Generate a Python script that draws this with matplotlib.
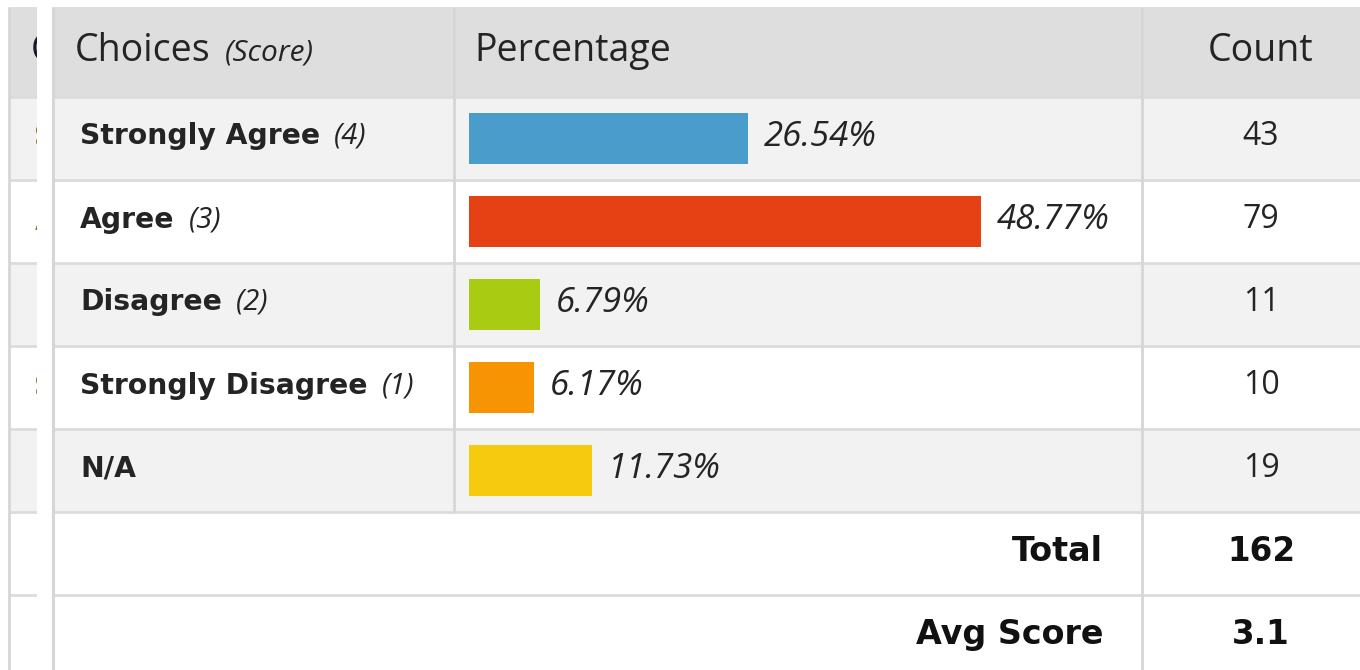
import matplotlib
matplotlib.use("Agg")
import matplotlib.pyplot as plt
from matplotlib.patches import Rectangle

# ---- data ----
choices = ["Strongly Agree", "Agree", "Disagree", "Strongly Disagree", "N/A"]
scores = ["(4)", "(3)", "(2)", "(1)", ""]
percentages = [26.54, 48.77, 6.79, 6.17, 11.73]
counts = [43, 79, 11, 10, 19]
total = 162
avg_score = "3.1"
header_labels = ["Choices", "(Score)", "Percentage", "Count"]
bar_colors = ["#4a9ccb", "#e64115", "#a9cb12", "#f79403", "#f6ca0e"]

W, H = 1360, 670
fig = plt.figure(figsize=(W / 100, H / 100), dpi=100)
fig.patch.set_facecolor("white")
ax0 = fig.add_axes([0, 0, 1, 1])
ax0.set_xlim(0, W)
ax0.set_ylim(H, 0)
ax0.axis("off")

TXT = "#242424"
LINE = "#dcdcdc"
VLINE = "#d6d6d6"
HDR = "#dedede"
ALT = "#f2f2f2"
SANS = "Open Sans"
BOLD = "DejaVu Sans"

top, hdr_bot = 7, 97
row_h = 83
rows_y = [hdr_bot + i * row_h for i in range(8)]  # boundaries

# ---- ghost table on the left ----
gx0, gx1 = 9, 37
ax0.add_patch(Rectangle((gx0, top), gx1 - gx0, hdr_bot - top, color=HDR, lw=0, zorder=0.2))
for i in range(7):
    y0 = rows_y[i]
    col = ALT if i in (0, 2, 4) else "white"
    ax0.add_patch(Rectangle((gx0, y0), gx1 - gx0, row_h, color=col, lw=0, zorder=0.2))
    ax0.plot([gx0, gx1], [y0, y0], color=LINE, lw=2, solid_capstyle="butt", zorder=0.3)
ax0.plot([gx0, gx0], [top, H], color=VLINE, lw=2, solid_capstyle="butt", zorder=0.3)
ax0.text(31, 51, "C", fontsize=27, family=SANS, color="#1a1a2a", va="center", ha="left", zorder=0.4)
for yy, ch in [(137, "S"), (222, "A"), (387, "S")]:
    ax0.text(34.5, yy, ch, fontsize=20, fontweight="bold", family=BOLD, color="#9a6a30",
             va="center", ha="left", zorder=0.4)
# white gap covering ghost glyph overflow
ax0.add_patch(Rectangle((gx1, 0), 16, H, color="white", lw=0, zorder=0.5))

# ---- main table ----
x_left, x_c1, x_c2, x_right = 53, 454, 1142, W
ax0.add_patch(Rectangle((x_left, top), x_right - x_left, hdr_bot - top, color=HDR, lw=0, zorder=1))
for i in range(7):
    y0 = rows_y[i]
    col = ALT if i in (0, 2, 4) else "white"
    ax0.add_patch(Rectangle((x_left, y0), x_right - x_left, row_h, color=col, lw=0, zorder=1))
    ax0.plot([x_left, x_right], [y0, y0], color=LINE, lw=2, solid_capstyle="butt", zorder=1.5)
ax0.plot([x_left, x_left], [top, H], color=VLINE, lw=2.2, solid_capstyle="butt", zorder=1.6)
ax0.plot([x_c1, x_c1], [top, rows_y[5]], color=VLINE, lw=2, solid_capstyle="butt", zorder=1.6)
ax0.plot([x_c2, x_c2], [top, H], color=VLINE, lw=2, solid_capstyle="butt", zorder=1.6)

renderer = fig.canvas.get_renderer()

def after(t, gap):
    bb = t.get_window_extent(renderer)
    return ax0.transData.inverted().transform((bb.x1, bb.y0))[0] + gap

hy = 51
t = ax0.text(75, hy, header_labels[0], fontsize=27, family=SANS, color=TXT, va="center", ha="left", zorder=3)
ax0.text(after(t, 14), hy + 2, header_labels[1], fontsize=21.5, family=SANS, style="italic",
         color=TXT, va="center", ha="left", zorder=3)
ax0.text(474, hy, header_labels[2], fontsize=27, family=SANS, color=TXT, va="center", ha="left", zorder=3)
ax0.text(1261, hy, header_labels[3], fontsize=27, family=SANS, color=TXT, va="center", ha="center", zorder=3)

for i, (c, s, n) in enumerate(zip(choices, scores, counts)):
    yc = rows_y[i] + row_h / 2 - 2
    t = ax0.text(80, yc, c, fontsize=20.3, fontweight="bold", family=BOLD, color=TXT,
                 va="center", ha="left", zorder=3)
    if s:
        ax0.text(after(t, 14), yc, s, fontsize=21, family=SANS, style="italic", color=TXT,
                 va="center", ha="left", zorder=3)
    ax0.text(1261, yc, str(n), fontsize=23, family=SANS, color=TXT, va="center", ha="center", zorder=3)

yt = rows_y[5] + row_h / 2 - 2
ya = rows_y[6] + row_h / 2 - 2
for yy, lab, val in [(yt, "Total", str(total)), (ya, "Avg Score", avg_score)]:
    ax0.text(1103, yy, lab, fontsize=24, fontweight="bold", family=BOLD, color="#111111",
             va="center", ha="right", zorder=3)
    ax0.text(1261, yy, val, fontsize=23.5, fontweight="bold", family=BOLD, color="#111111",
             va="center", ha="center", zorder=3)

# ---- bars ----
px_per_pct = 10.5
bx0, bx1 = 469, x_c2
axb = fig.add_axes([bx0 / W, 1 - rows_y[5] / H, (bx1 - bx0) / W, (rows_y[5] - rows_y[0]) / H])
axb.set_xlim(0, (bx1 - bx0) / px_per_pct)
axb.set_ylim(len(choices) - 0.5, -0.5)
axb.axis("off")
axb.patch.set_alpha(0)
ypos = list(range(len(choices)))
axb.barh(ypos, percentages, height=0.61, color=bar_colors, linewidth=0)
for yv, p in zip(ypos, percentages):
    axb.text(p + 16 / px_per_pct, yv - 0.02, f"{p:.2f}%", fontsize=25, family=SANS,
             style="italic", color=TXT, va="center", ha="left")

fig.savefig("out.png", dpi=100, facecolor="white")
